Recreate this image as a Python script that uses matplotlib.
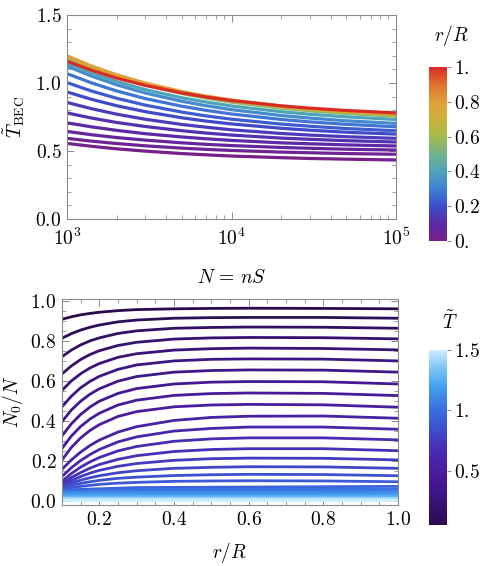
import numpy as np
import matplotlib
matplotlib.use("Agg")
import matplotlib.pyplot as plt
from matplotlib.colors import LinearSegmentedColormap, Normalize
from matplotlib.cm import ScalarMappable
from matplotlib.ticker import FixedLocator, MultipleLocator, FuncFormatter, LogLocator, NullFormatter

plt.rcParams['mathtext.fontset'] = 'cm'
plt.rcParams['font.family'] = 'serif'
plt.rcParams['font.serif'] = ['DejaVu Serif']
fs = 14
grey = '#8c8c8c'

# ---------------- top panel data: T_BEC vs N, one curve per r/R ----------------
N_vals = [1e3, 1.4e3, 2e3, 3e3, 5e3, 7e3, 1e4, 2e4, 3e4, 5e4, 1e5]
rR_colour = [0.0, 0.03, 0.06, 0.09, 0.12, 0.15, 0.19, 0.23, 0.28, 0.33, 0.40, 0.55, 0.65, 0.80, 1.00]
T_bec = [
    [0.556, 0.535, 0.516, 0.499, 0.481, 0.472, 0.463, 0.451, 0.445, 0.440, 0.434],
    [0.593, 0.573, 0.555, 0.538, 0.521, 0.512, 0.504, 0.492, 0.487, 0.481, 0.476],
    [0.644, 0.620, 0.599, 0.580, 0.560, 0.549, 0.540, 0.526, 0.520, 0.513, 0.507],
    [0.707, 0.678, 0.652, 0.627, 0.603, 0.590, 0.578, 0.560, 0.553, 0.545, 0.537],
    [0.780, 0.743, 0.710, 0.680, 0.649, 0.632, 0.617, 0.595, 0.586, 0.576, 0.566],
    [0.857, 0.812, 0.771, 0.733, 0.695, 0.675, 0.656, 0.629, 0.617, 0.605, 0.593],
    [0.934, 0.881, 0.833, 0.789, 0.744, 0.720, 0.699, 0.667, 0.653, 0.638, 0.624],
    [1.003, 0.942, 0.888, 0.837, 0.786, 0.758, 0.734, 0.698, 0.682, 0.665, 0.649],
    [1.069, 1.002, 0.942, 0.885, 0.829, 0.799, 0.772, 0.732, 0.714, 0.696, 0.678],
    [1.124, 1.052, 0.987, 0.926, 0.865, 0.833, 0.804, 0.761, 0.742, 0.722, 0.703],
    [1.145, 1.074, 1.011, 0.951, 0.891, 0.860, 0.831, 0.789, 0.770, 0.751, 0.732],
    [1.185, 1.111, 1.045, 0.984, 0.922, 0.889, 0.859, 0.815, 0.795, 0.776, 0.756],
    [1.195, 1.121, 1.055, 0.993, 0.931, 0.898, 0.868, 0.824, 0.805, 0.785, 0.765],
    [1.200, 1.126, 1.061, 0.999, 0.937, 0.904, 0.875, 0.831, 0.811, 0.792, 0.772],
    [1.160, 1.095, 1.036, 0.982, 0.927, 0.897, 0.871, 0.832, 0.815, 0.798, 0.780],
]

# ---------------- bottom panel data: N0/N vs r/R, one curve per T ----------------
r_vals = [0.1, 0.125, 0.15, 0.175, 0.2, 0.25, 0.3, 0.4, 0.5, 0.6, 0.8, 1.0]
T_curves = [0.05, 0.10, 0.15, 0.20, 0.25, 0.30, 0.35, 0.40, 0.45, 0.50,
            0.55, 0.60, 0.65, 0.70, 0.75, 0.80, 0.85, 0.90]
N0_frac = [
    [0.907, 0.919, 0.929, 0.936, 0.942, 0.950, 0.955, 0.959, 0.961, 0.962, 0.961, 0.959],
    [0.812, 0.835, 0.853, 0.867, 0.878, 0.894, 0.903, 0.912, 0.915, 0.916, 0.916, 0.912],
    [0.720, 0.753, 0.779, 0.799, 0.814, 0.836, 0.849, 0.862, 0.866, 0.868, 0.867, 0.862],
    [0.634, 0.674, 0.706, 0.731, 0.750, 0.776, 0.792, 0.808, 0.814, 0.816, 0.815, 0.809],
    [0.552, 0.599, 0.635, 0.664, 0.686, 0.717, 0.735, 0.753, 0.760, 0.763, 0.761, 0.754],
    [0.470, 0.523, 0.565, 0.597, 0.622, 0.657, 0.679, 0.699, 0.707, 0.709, 0.708, 0.699],
    [0.396, 0.454, 0.498, 0.533, 0.560, 0.598, 0.621, 0.643, 0.651, 0.654, 0.653, 0.643],
    [0.325, 0.385, 0.432, 0.469, 0.498, 0.537, 0.561, 0.584, 0.593, 0.596, 0.595, 0.584],
    [0.262, 0.324, 0.372, 0.409, 0.438, 0.479, 0.503, 0.527, 0.536, 0.539, 0.537, 0.526],
    [0.205, 0.267, 0.315, 0.352, 0.381, 0.422, 0.446, 0.470, 0.479, 0.482, 0.480, 0.468],
    [0.158, 0.205, 0.244, 0.277, 0.304, 0.344, 0.371, 0.402, 0.417, 0.423, 0.424, 0.413],
    [0.122, 0.166, 0.202, 0.232, 0.257, 0.295, 0.320, 0.349, 0.362, 0.369, 0.369, 0.358],
    [0.098, 0.137, 0.169, 0.195, 0.217, 0.250, 0.272, 0.298, 0.310, 0.315, 0.315, 0.305],
    [0.085, 0.117, 0.142, 0.164, 0.182, 0.208, 0.226, 0.247, 0.257, 0.261, 0.261, 0.251],
    [0.078, 0.102, 0.122, 0.139, 0.153, 0.173, 0.187, 0.203, 0.211, 0.214, 0.213, 0.205],
    [0.072, 0.090, 0.104, 0.116, 0.126, 0.141, 0.151, 0.163, 0.168, 0.171, 0.170, 0.163],
    [0.066, 0.078, 0.088, 0.096, 0.103, 0.113, 0.119, 0.127, 0.131, 0.133, 0.132, 0.126],
    [0.060, 0.067, 0.073, 0.078, 0.083, 0.089, 0.093, 0.098, 0.100, 0.101, 0.100, 0.096],
]
# hot curves above condensation: nearly flat
T_flat = [0.95, 1.00, 1.05, 1.10, 1.15, 1.20, 1.25, 1.30, 1.35, 1.40, 1.45, 1.50]
N0_flat_left = [0.055, 0.050, 0.045, 0.040, 0.035, 0.031, 0.026, 0.021, 0.017, 0.013, 0.010, 0.007]
N0_flat_mid = [0.067, 0.057, 0.049, 0.042, 0.036, 0.031, 0.026, 0.021, 0.017, 0.013, 0.010, 0.007]
N0_flat_right = [0.073, 0.061, 0.051, 0.043, 0.036, 0.031, 0.026, 0.021, 0.017, 0.013, 0.010, 0.007]

rainbow = LinearSegmentedColormap.from_list('mma_rainbow', [
    (0.0, '#782089'), (0.1, '#5a2aa8'), (0.2, '#3d4ecd'), (0.3, '#3f80d6'),
    (0.4, '#50a3b8'), (0.5, '#72b38c'), (0.6, '#a4ba4c'), (0.7, '#cbb23a'),
    (0.8, '#e0a036'), (0.9, '#e07230'), (1.0, '#d92b24')])
temp_cmap = LinearSegmentedColormap.from_list('temp', [
    (0.0, '#2b0b4e'), (0.17, '#3d1484'), (0.31, '#4a1c9f'), (0.45, '#4730b8'),
    (0.55, '#3d50d0'), (0.66, '#3a6ee0'), (0.79, '#42a0f0'), (0.9, '#7cc6f6'),
    (1.0, '#cdeefc')])
tnorm = Normalize(0.05, 1.5)


def style_axes(ax):
    for s in ax.spines.values():
        s.set_color(grey)
        s.set_linewidth(0.8)
    ax.tick_params(which='both', direction='in', top=True, right=True,
                   color=grey, labelsize=fs, pad=4)
    ax.tick_params(which='major', length=5, width=0.7)
    ax.tick_params(which='minor', length=3, width=0.6)


fig = plt.figure(figsize=(4.88, 5.66), dpi=100)

# top panel
ax1 = fig.add_axes([67 / 488, 1 - 219 / 566, 329 / 488, 204 / 566])
for vals, c in zip(T_bec, rR_colour):
    ax1.plot(N_vals, vals, color=rainbow(c), lw=2.3, solid_capstyle='butt')
ax1.set_xscale('log')
ax1.set_xlim(1e3, 1e5)
ax1.set_ylim(0, 1.5)
ax1.yaxis.set_major_locator(MultipleLocator(0.5))
ax1.yaxis.set_minor_locator(MultipleLocator(0.1))
ax1.yaxis.set_major_formatter(FuncFormatter(lambda v, _: f'${v:.1f}$'))
ax1.xaxis.set_major_locator(FixedLocator([1e3, 1e4, 1e5]))
ax1.xaxis.set_major_formatter(FuncFormatter(lambda v, _: f'$10^{{{int(round(np.log10(v)))}}}$'))
ax1.xaxis.set_minor_locator(LogLocator(base=10, subs=np.arange(2, 10)))
ax1.xaxis.set_minor_formatter(NullFormatter())
style_axes(ax1)
ax1.tick_params(axis='x', which='major', pad=6)
ax1.set_xlabel(r'$N\,=\,nS$', fontsize=fs, labelpad=15)
ax1.set_ylabel(r'$\tilde{T}_{\mathrm{BEC}}$', fontsize=fs, labelpad=6)

cax1 = fig.add_axes([429 / 488, 1 - 241 / 566, 18 / 488, 174 / 566])
cb1 = fig.colorbar(ScalarMappable(Normalize(0, 1), rainbow), cax=cax1)
cb1.outline.set_visible(False)
cb1.set_ticks([0, 0.2, 0.4, 0.6, 0.8, 1.0])
cb1.set_ticklabels(['$0.$', '$0.2$', '$0.4$', '$0.6$', '$0.8$', '$1.$'])
cax1.tick_params(length=3, color=grey, labelsize=fs, pad=2)
fig.text(452 / 488, 1 - 36 / 566, '$r/R$', fontsize=fs, ha='center', va='center')

# bottom panel
ax2 = fig.add_axes([62 / 488, 1 - 505 / 566, 336 / 488, 206 / 566])
for vals, t in zip(N0_frac, T_curves):
    ax2.plot(r_vals, vals, color=temp_cmap(tnorm(t)), lw=2.0)
for yl, ym, yr, t in zip(N0_flat_left, N0_flat_mid, N0_flat_right, T_flat):
    ax2.plot([r_vals[0], r_vals[6], r_vals[-1]], [yl, ym, yr],
             color=temp_cmap(tnorm(t)), lw=2.0)
ax2.set_xlim(0.1, 1.0)
ax2.set_ylim(-0.02, 1.008)
ax2.xaxis.set_major_locator(MultipleLocator(0.2))
ax2.xaxis.set_minor_locator(MultipleLocator(0.05))
ax2.yaxis.set_major_locator(MultipleLocator(0.2))
ax2.yaxis.set_minor_locator(MultipleLocator(0.05))
fmt = FuncFormatter(lambda v, _: f'${v:.1f}$')
ax2.xaxis.set_major_formatter(fmt)
ax2.yaxis.set_major_formatter(fmt)
style_axes(ax2)
ax2.set_xlabel('$r/R$', fontsize=fs, labelpad=8)
ax2.set_ylabel('$N_0/N$', fontsize=fs, labelpad=4)

cax2 = fig.add_axes([429 / 488, 1 - 525 / 566, 18 / 488, 175 / 566])
cb2 = fig.colorbar(ScalarMappable(tnorm, temp_cmap), cax=cax2)
cb2.outline.set_visible(False)
cb2.set_ticks([0.5, 1.0, 1.5])
cb2.set_ticklabels(['$0.5$', '$1.$', '$1.5$'])
cax2.tick_params(length=3, color=grey, labelsize=fs, pad=2)
fig.text(450 / 488, 1 - 322 / 566, r'$\tilde{T}$', fontsize=fs, ha='center', va='center')

fig.savefig('out.png', dpi=100)
